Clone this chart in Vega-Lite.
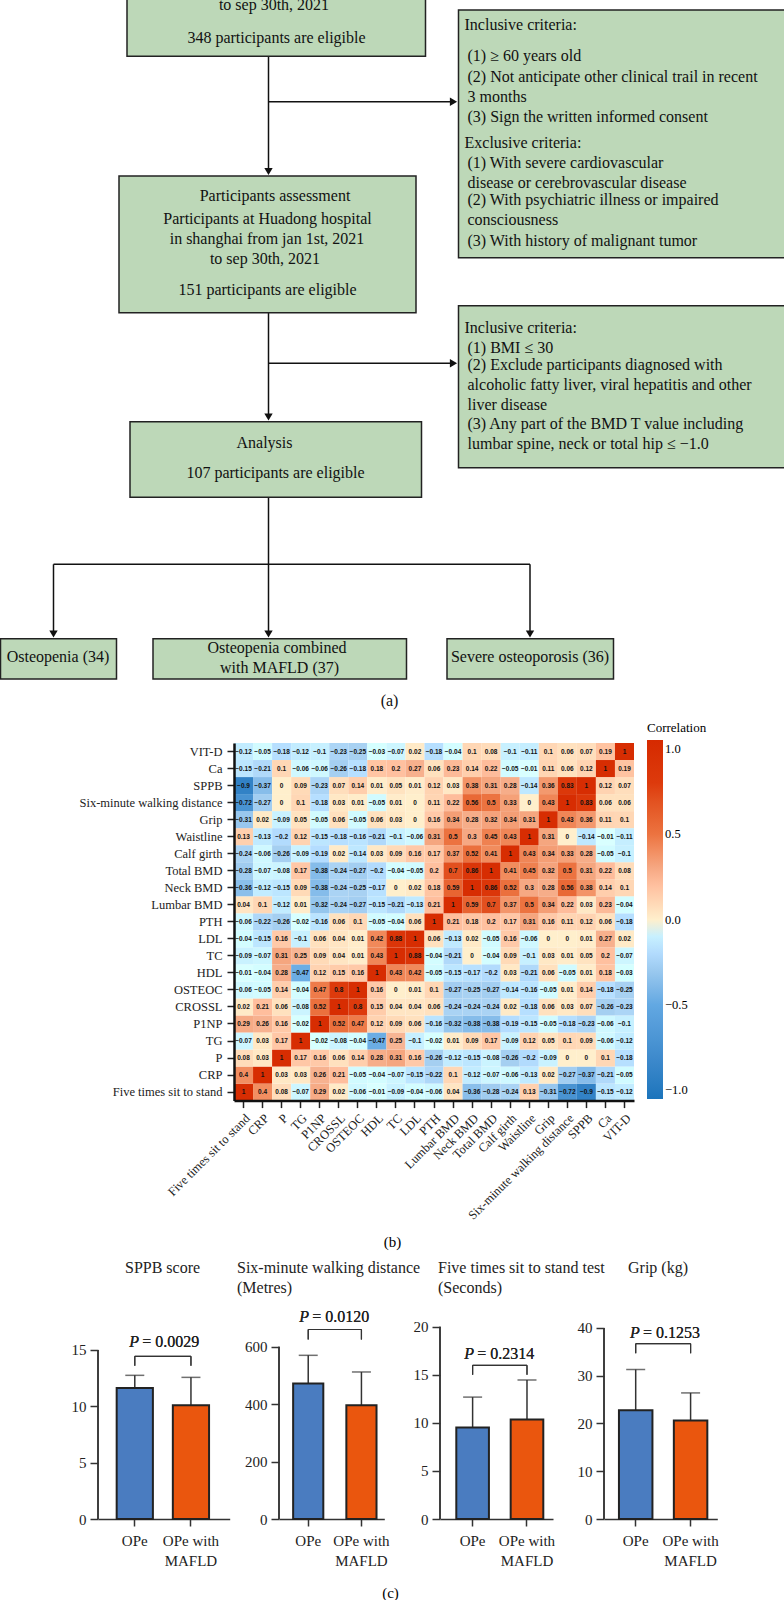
{"$schema":"https://vega.github.io/schema/vega-lite/v6.json","padding":0,"background":"white","bounds":"flush","spacing":0,
"config":{"view":{"stroke":null},"concat":{"spacing":0},"font":"Liberation Serif","axis":{"labelFont":"Liberation Serif","titleFont":"Liberation Serif","grid":false}},
"datasets":{
"boxes":[{"name":"recruit","left":127,"right":425.5,"top":-5,"bottom":56.3},{"name":"criteria1","left":458.5,"right":790,"top":10,"bottom":257.7},{"name":"assess","left":119,"right":416,"top":176,"bottom":312.7},{"name":"criteria2","left":458.5,"right":790,"top":305.7,"bottom":467.7},{"name":"analysis","left":130,"right":421.5,"top":421.7,"bottom":497.3},{"name":"g1","left":0.5,"right":116.5,"top":638.7,"bottom":679},{"name":"g2","left":153,"right":406.5,"top":638.7,"bottom":679},{"name":"g3","left":447,"right":613.5,"top":638.7,"bottom":679}],
"links":[{"x":268.5,"x2":268.5,"y":56.3,"y2":172},{"x":268.5,"x2":455,"y":101.7,"y2":101.7},{"x":268.5,"x2":268.5,"y":312.7,"y2":418},{"x":268.5,"x2":455,"y":363.3,"y2":363.3},{"x":268.5,"x2":268.5,"y":497.3,"y2":635},{"x":53.5,"x2":530,"y":564.3,"y2":564.3},{"x":53.5,"x2":53.5,"y":564.3,"y2":635},{"x":530,"x2":530,"y":564.3,"y2":635}],
"heads":[{"x":268.5,"y":171.5,"dir":"triangle-down"},{"x":268.5,"y":417,"dir":"triangle-down"},{"x":268.5,"y":634,"dir":"triangle-down"},{"x":53.5,"y":634,"dir":"triangle-down"},{"x":530,"y":634,"dir":"triangle-down"},{"x":453.5,"y":101.7,"dir":"triangle-right"},{"x":453.5,"y":363.3,"dir":"triangle-right"}],
"centerText":[{"x":274,"y":4.7,"t":"to sep 30th, 2021"},{"x":276.5,"y":38,"t":"348 participants are eligible"},{"x":275,"y":196,"t":"Participants assessment"},{"x":267.5,"y":219,"t":"Participants at Huadong hospital"},{"x":267,"y":239.3,"t":"in shanghai from jan 1st, 2021"},{"x":265,"y":259.3,"t":"to sep 30th, 2021"},{"x":267.5,"y":290,"t":"151 participants are eligible"},{"x":264.5,"y":443,"t":"Analysis"},{"x":275.5,"y":473,"t":"107 participants are eligible"},{"x":58,"y":657.3,"t":"Osteopenia (34)"},{"x":277,"y":648,"t":"Osteopenia combined"},{"x":279.5,"y":668,"t":"with MAFLD (37)"},{"x":530,"y":657.3,"t":"Severe osteoporosis (36)"},{"x":389.5,"y":701,"t":"(a)"}],
"leftText":[{"x":464.5,"y":25,"t":"Inclusive criteria:"},{"x":467.5,"y":56,"t":"(1) ≥ 60 years old"},{"x":467.5,"y":77.3,"t":"(2) Not anticipate other clinical trail in recent"},{"x":467.5,"y":97,"t":"3 months"},{"x":467.5,"y":117,"t":"(3) Sign the written informed consent"},{"x":464.5,"y":142.7,"t":"Exclusive criteria:"},{"x":467.5,"y":163,"t":"(1) With severe cardiovascular"},{"x":467.5,"y":183,"t":"disease or cerebrovascular disease"},{"x":467.5,"y":200,"t":"(2) With psychiatric illness or impaired"},{"x":467.5,"y":220,"t":"consciousness"},{"x":467.5,"y":241,"t":"(3) With history of malignant tumor"},{"x":464.5,"y":328.3,"t":"Inclusive criteria:"},{"x":467.5,"y":348,"t":"(1) BMI ≤ 30"},{"x":467.5,"y":365.3,"t":"(2) Exclude participants diagnosed with"},{"x":467.5,"y":385,"t":"alcoholic fatty liver, viral hepatitis and other"},{"x":467.5,"y":405,"t":"liver disease"},{"x":467.5,"y":424.3,"t":"(3) Any part of the BMD T value including"},{"x":467.5,"y":444.3,"t":"lumbar spine, neck or total hip ≤ −1.0"}],
"corr":[
{"x":"Five","y":"Five","r":1},{"x":"CRP","y":"Five","r":0.4},{"x":"P","y":"Five","r":0.08},{"x":"TG","y":"Five","r":-0.07},{"x":"P1NP","y":"Five","r":0.29},{"x":"CROSSL","y":"Five","r":0.02},{"x":"OSTEOC","y":"Five","r":-0.06},{"x":"HDL","y":"Five","r":-0.01},{"x":"TC","y":"Five","r":-0.09},{"x":"LDL","y":"Five","r":-0.04},{"x":"PTH","y":"Five","r":-0.06},{"x":"Lumbar BMD","y":"Five","r":0.04},{"x":"Neck BMD","y":"Five","r":-0.36},{"x":"Total BMD","y":"Five","r":-0.28},{"x":"Calf girth","y":"Five","r":-0.24},{"x":"Waistline","y":"Five","r":0.13},{"x":"Grip","y":"Five","r":-0.31},{"x":"Six","y":"Five","r":-0.72},{"x":"SPPB","y":"Five","r":-0.9},{"x":"Ca","y":"Five","r":-0.15},{"x":"VIT-D","y":"Five","r":-0.12},
{"x":"Five","y":"CRP","r":0.4},{"x":"CRP","y":"CRP","r":1},{"x":"P","y":"CRP","r":0.03},{"x":"TG","y":"CRP","r":0.03},{"x":"P1NP","y":"CRP","r":0.26},{"x":"CROSSL","y":"CRP","r":0.21},{"x":"OSTEOC","y":"CRP","r":-0.05},{"x":"HDL","y":"CRP","r":-0.04},{"x":"TC","y":"CRP","r":-0.07},{"x":"LDL","y":"CRP","r":-0.15},{"x":"PTH","y":"CRP","r":-0.22},{"x":"Lumbar BMD","y":"CRP","r":0.1},{"x":"Neck BMD","y":"CRP","r":-0.12},{"x":"Total BMD","y":"CRP","r":-0.07},{"x":"Calf girth","y":"CRP","r":-0.06},{"x":"Waistline","y":"CRP","r":-0.13},{"x":"Grip","y":"CRP","r":0.02},{"x":"Six","y":"CRP","r":-0.27},{"x":"SPPB","y":"CRP","r":-0.37},{"x":"Ca","y":"CRP","r":-0.21},{"x":"VIT-D","y":"CRP","r":-0.05},
{"x":"Five","y":"P","r":0.08},{"x":"CRP","y":"P","r":0.03},{"x":"P","y":"P","r":1},{"x":"TG","y":"P","r":0.17},{"x":"P1NP","y":"P","r":0.16},{"x":"CROSSL","y":"P","r":0.06},{"x":"OSTEOC","y":"P","r":0.14},{"x":"HDL","y":"P","r":0.28},{"x":"TC","y":"P","r":0.31},{"x":"LDL","y":"P","r":0.16},{"x":"PTH","y":"P","r":-0.26},{"x":"Lumbar BMD","y":"P","r":-0.12},{"x":"Neck BMD","y":"P","r":-0.15},{"x":"Total BMD","y":"P","r":-0.08},{"x":"Calf girth","y":"P","r":-0.26},{"x":"Waistline","y":"P","r":-0.2},{"x":"Grip","y":"P","r":-0.09},{"x":"Six","y":"P","r":0},{"x":"SPPB","y":"P","r":0},{"x":"Ca","y":"P","r":0.1},{"x":"VIT-D","y":"P","r":-0.18},
{"x":"Five","y":"TG","r":-0.07},{"x":"CRP","y":"TG","r":0.03},{"x":"P","y":"TG","r":0.17},{"x":"TG","y":"TG","r":1},{"x":"P1NP","y":"TG","r":-0.02},{"x":"CROSSL","y":"TG","r":-0.08},{"x":"OSTEOC","y":"TG","r":-0.04},{"x":"HDL","y":"TG","r":-0.47},{"x":"TC","y":"TG","r":0.25},{"x":"LDL","y":"TG","r":-0.1},{"x":"PTH","y":"TG","r":-0.02},{"x":"Lumbar BMD","y":"TG","r":0.01},{"x":"Neck BMD","y":"TG","r":0.09},{"x":"Total BMD","y":"TG","r":0.17},{"x":"Calf girth","y":"TG","r":-0.09},{"x":"Waistline","y":"TG","r":0.12},{"x":"Grip","y":"TG","r":0.05},{"x":"Six","y":"TG","r":0.1},{"x":"SPPB","y":"TG","r":0.09},{"x":"Ca","y":"TG","r":-0.06},{"x":"VIT-D","y":"TG","r":-0.12},
{"x":"Five","y":"P1NP","r":0.29},{"x":"CRP","y":"P1NP","r":0.26},{"x":"P","y":"P1NP","r":0.16},{"x":"TG","y":"P1NP","r":-0.02},{"x":"P1NP","y":"P1NP","r":1},{"x":"CROSSL","y":"P1NP","r":0.52},{"x":"OSTEOC","y":"P1NP","r":0.47},{"x":"HDL","y":"P1NP","r":0.12},{"x":"TC","y":"P1NP","r":0.09},{"x":"LDL","y":"P1NP","r":0.06},{"x":"PTH","y":"P1NP","r":-0.16},{"x":"Lumbar BMD","y":"P1NP","r":-0.32},{"x":"Neck BMD","y":"P1NP","r":-0.38},{"x":"Total BMD","y":"P1NP","r":-0.38},{"x":"Calf girth","y":"P1NP","r":-0.19},{"x":"Waistline","y":"P1NP","r":-0.15},{"x":"Grip","y":"P1NP","r":-0.05},{"x":"Six","y":"P1NP","r":-0.18},{"x":"SPPB","y":"P1NP","r":-0.23},{"x":"Ca","y":"P1NP","r":-0.06},{"x":"VIT-D","y":"P1NP","r":-0.1},
{"x":"Five","y":"CROSSL","r":0.02},{"x":"CRP","y":"CROSSL","r":0.21},{"x":"P","y":"CROSSL","r":0.06},{"x":"TG","y":"CROSSL","r":-0.08},{"x":"P1NP","y":"CROSSL","r":0.52},{"x":"CROSSL","y":"CROSSL","r":1},{"x":"OSTEOC","y":"CROSSL","r":0.8},{"x":"HDL","y":"CROSSL","r":0.15},{"x":"TC","y":"CROSSL","r":0.04},{"x":"LDL","y":"CROSSL","r":0.04},{"x":"PTH","y":"CROSSL","r":0.06},{"x":"Lumbar BMD","y":"CROSSL","r":-0.24},{"x":"Neck BMD","y":"CROSSL","r":-0.24},{"x":"Total BMD","y":"CROSSL","r":-0.24},{"x":"Calf girth","y":"CROSSL","r":0.02},{"x":"Waistline","y":"CROSSL","r":-0.18},{"x":"Grip","y":"CROSSL","r":0.06},{"x":"Six","y":"CROSSL","r":0.03},{"x":"SPPB","y":"CROSSL","r":0.07},{"x":"Ca","y":"CROSSL","r":-0.26},{"x":"VIT-D","y":"CROSSL","r":-0.23},
{"x":"Five","y":"OSTEOC","r":-0.06},{"x":"CRP","y":"OSTEOC","r":-0.05},{"x":"P","y":"OSTEOC","r":0.14},{"x":"TG","y":"OSTEOC","r":-0.04},{"x":"P1NP","y":"OSTEOC","r":0.47},{"x":"CROSSL","y":"OSTEOC","r":0.8},{"x":"OSTEOC","y":"OSTEOC","r":1},{"x":"HDL","y":"OSTEOC","r":0.16},{"x":"TC","y":"OSTEOC","r":0},{"x":"LDL","y":"OSTEOC","r":0.01},{"x":"PTH","y":"OSTEOC","r":0.1},{"x":"Lumbar BMD","y":"OSTEOC","r":-0.27},{"x":"Neck BMD","y":"OSTEOC","r":-0.25},{"x":"Total BMD","y":"OSTEOC","r":-0.27},{"x":"Calf girth","y":"OSTEOC","r":-0.14},{"x":"Waistline","y":"OSTEOC","r":-0.16},{"x":"Grip","y":"OSTEOC","r":-0.05},{"x":"Six","y":"OSTEOC","r":0.01},{"x":"SPPB","y":"OSTEOC","r":0.14},{"x":"Ca","y":"OSTEOC","r":-0.18},{"x":"VIT-D","y":"OSTEOC","r":-0.25},
{"x":"Five","y":"HDL","r":-0.01},{"x":"CRP","y":"HDL","r":-0.04},{"x":"P","y":"HDL","r":0.28},{"x":"TG","y":"HDL","r":-0.47},{"x":"P1NP","y":"HDL","r":0.12},{"x":"CROSSL","y":"HDL","r":0.15},{"x":"OSTEOC","y":"HDL","r":0.16},{"x":"HDL","y":"HDL","r":1},{"x":"TC","y":"HDL","r":0.43},{"x":"LDL","y":"HDL","r":0.42},{"x":"PTH","y":"HDL","r":-0.05},{"x":"Lumbar BMD","y":"HDL","r":-0.15},{"x":"Neck BMD","y":"HDL","r":-0.17},{"x":"Total BMD","y":"HDL","r":-0.2},{"x":"Calf girth","y":"HDL","r":0.03},{"x":"Waistline","y":"HDL","r":-0.21},{"x":"Grip","y":"HDL","r":0.06},{"x":"Six","y":"HDL","r":-0.05},{"x":"SPPB","y":"HDL","r":0.01},{"x":"Ca","y":"HDL","r":0.18},{"x":"VIT-D","y":"HDL","r":-0.03},
{"x":"Five","y":"TC","r":-0.09},{"x":"CRP","y":"TC","r":-0.07},{"x":"P","y":"TC","r":0.31},{"x":"TG","y":"TC","r":0.25},{"x":"P1NP","y":"TC","r":0.09},{"x":"CROSSL","y":"TC","r":0.04},{"x":"OSTEOC","y":"TC","r":0.01},{"x":"HDL","y":"TC","r":0.43},{"x":"TC","y":"TC","r":1},{"x":"LDL","y":"TC","r":0.88},{"x":"PTH","y":"TC","r":-0.04},{"x":"Lumbar BMD","y":"TC","r":-0.21},{"x":"Neck BMD","y":"TC","r":0},{"x":"Total BMD","y":"TC","r":-0.04},{"x":"Calf girth","y":"TC","r":0.09},{"x":"Waistline","y":"TC","r":-0.1},{"x":"Grip","y":"TC","r":0.03},{"x":"Six","y":"TC","r":0.01},{"x":"SPPB","y":"TC","r":0.05},{"x":"Ca","y":"TC","r":0.2},{"x":"VIT-D","y":"TC","r":-0.07},
{"x":"Five","y":"LDL","r":-0.04},{"x":"CRP","y":"LDL","r":-0.15},{"x":"P","y":"LDL","r":0.16},{"x":"TG","y":"LDL","r":-0.1},{"x":"P1NP","y":"LDL","r":0.06},{"x":"CROSSL","y":"LDL","r":0.04},{"x":"OSTEOC","y":"LDL","r":0.01},{"x":"HDL","y":"LDL","r":0.42},{"x":"TC","y":"LDL","r":0.88},{"x":"LDL","y":"LDL","r":1},{"x":"PTH","y":"LDL","r":0.06},{"x":"Lumbar BMD","y":"LDL","r":-0.13},{"x":"Neck BMD","y":"LDL","r":0.02},{"x":"Total BMD","y":"LDL","r":-0.05},{"x":"Calf girth","y":"LDL","r":0.16},{"x":"Waistline","y":"LDL","r":-0.06},{"x":"Grip","y":"LDL","r":0},{"x":"Six","y":"LDL","r":0},{"x":"SPPB","y":"LDL","r":0.01},{"x":"Ca","y":"LDL","r":0.27},{"x":"VIT-D","y":"LDL","r":0.02},
{"x":"Five","y":"PTH","r":-0.06},{"x":"CRP","y":"PTH","r":-0.22},{"x":"P","y":"PTH","r":-0.26},{"x":"TG","y":"PTH","r":-0.02},{"x":"P1NP","y":"PTH","r":-0.16},{"x":"CROSSL","y":"PTH","r":0.06},{"x":"OSTEOC","y":"PTH","r":0.1},{"x":"HDL","y":"PTH","r":-0.05},{"x":"TC","y":"PTH","r":-0.04},{"x":"LDL","y":"PTH","r":0.06},{"x":"PTH","y":"PTH","r":1},{"x":"Lumbar BMD","y":"PTH","r":0.21},{"x":"Neck BMD","y":"PTH","r":0.18},{"x":"Total BMD","y":"PTH","r":0.2},{"x":"Calf girth","y":"PTH","r":0.17},{"x":"Waistline","y":"PTH","r":0.31},{"x":"Grip","y":"PTH","r":0.16},{"x":"Six","y":"PTH","r":0.11},{"x":"SPPB","y":"PTH","r":0.12},{"x":"Ca","y":"PTH","r":0.06},{"x":"VIT-D","y":"PTH","r":-0.18},
{"x":"Five","y":"Lumbar BMD","r":0.04},{"x":"CRP","y":"Lumbar BMD","r":0.1},{"x":"P","y":"Lumbar BMD","r":-0.12},{"x":"TG","y":"Lumbar BMD","r":0.01},{"x":"P1NP","y":"Lumbar BMD","r":-0.32},{"x":"CROSSL","y":"Lumbar BMD","r":-0.24},{"x":"OSTEOC","y":"Lumbar BMD","r":-0.27},{"x":"HDL","y":"Lumbar BMD","r":-0.15},{"x":"TC","y":"Lumbar BMD","r":-0.21},{"x":"LDL","y":"Lumbar BMD","r":-0.13},{"x":"PTH","y":"Lumbar BMD","r":0.21},{"x":"Lumbar BMD","y":"Lumbar BMD","r":1},{"x":"Neck BMD","y":"Lumbar BMD","r":0.59},{"x":"Total BMD","y":"Lumbar BMD","r":0.7},{"x":"Calf girth","y":"Lumbar BMD","r":0.37},{"x":"Waistline","y":"Lumbar BMD","r":0.5},{"x":"Grip","y":"Lumbar BMD","r":0.34},{"x":"Six","y":"Lumbar BMD","r":0.22},{"x":"SPPB","y":"Lumbar BMD","r":0.03},{"x":"Ca","y":"Lumbar BMD","r":0.23},{"x":"VIT-D","y":"Lumbar BMD","r":-0.04},
{"x":"Five","y":"Neck BMD","r":-0.36},{"x":"CRP","y":"Neck BMD","r":-0.12},{"x":"P","y":"Neck BMD","r":-0.15},{"x":"TG","y":"Neck BMD","r":0.09},{"x":"P1NP","y":"Neck BMD","r":-0.38},{"x":"CROSSL","y":"Neck BMD","r":-0.24},{"x":"OSTEOC","y":"Neck BMD","r":-0.25},{"x":"HDL","y":"Neck BMD","r":-0.17},{"x":"TC","y":"Neck BMD","r":0},{"x":"LDL","y":"Neck BMD","r":0.02},{"x":"PTH","y":"Neck BMD","r":0.18},{"x":"Lumbar BMD","y":"Neck BMD","r":0.59},{"x":"Neck BMD","y":"Neck BMD","r":1},{"x":"Total BMD","y":"Neck BMD","r":0.86},{"x":"Calf girth","y":"Neck BMD","r":0.52},{"x":"Waistline","y":"Neck BMD","r":0.3},{"x":"Grip","y":"Neck BMD","r":0.28},{"x":"Six","y":"Neck BMD","r":0.56},{"x":"SPPB","y":"Neck BMD","r":0.38},{"x":"Ca","y":"Neck BMD","r":0.14},{"x":"VIT-D","y":"Neck BMD","r":0.1},
{"x":"Five","y":"Total BMD","r":-0.28},{"x":"CRP","y":"Total BMD","r":-0.07},{"x":"P","y":"Total BMD","r":-0.08},{"x":"TG","y":"Total BMD","r":0.17},{"x":"P1NP","y":"Total BMD","r":-0.38},{"x":"CROSSL","y":"Total BMD","r":-0.24},{"x":"OSTEOC","y":"Total BMD","r":-0.27},{"x":"HDL","y":"Total BMD","r":-0.2},{"x":"TC","y":"Total BMD","r":-0.04},{"x":"LDL","y":"Total BMD","r":-0.05},{"x":"PTH","y":"Total BMD","r":0.2},{"x":"Lumbar BMD","y":"Total BMD","r":0.7},{"x":"Neck BMD","y":"Total BMD","r":0.86},{"x":"Total BMD","y":"Total BMD","r":1},{"x":"Calf girth","y":"Total BMD","r":0.41},{"x":"Waistline","y":"Total BMD","r":0.45},{"x":"Grip","y":"Total BMD","r":0.32},{"x":"Six","y":"Total BMD","r":0.5},{"x":"SPPB","y":"Total BMD","r":0.31},{"x":"Ca","y":"Total BMD","r":0.22},{"x":"VIT-D","y":"Total BMD","r":0.08},
{"x":"Five","y":"Calf girth","r":-0.24},{"x":"CRP","y":"Calf girth","r":-0.06},{"x":"P","y":"Calf girth","r":-0.26},{"x":"TG","y":"Calf girth","r":-0.09},{"x":"P1NP","y":"Calf girth","r":-0.19},{"x":"CROSSL","y":"Calf girth","r":0.02},{"x":"OSTEOC","y":"Calf girth","r":-0.14},{"x":"HDL","y":"Calf girth","r":0.03},{"x":"TC","y":"Calf girth","r":0.09},{"x":"LDL","y":"Calf girth","r":0.16},{"x":"PTH","y":"Calf girth","r":0.17},{"x":"Lumbar BMD","y":"Calf girth","r":0.37},{"x":"Neck BMD","y":"Calf girth","r":0.52},{"x":"Total BMD","y":"Calf girth","r":0.41},{"x":"Calf girth","y":"Calf girth","r":1},{"x":"Waistline","y":"Calf girth","r":0.43},{"x":"Grip","y":"Calf girth","r":0.34},{"x":"Six","y":"Calf girth","r":0.33},{"x":"SPPB","y":"Calf girth","r":0.28},{"x":"Ca","y":"Calf girth","r":-0.05},{"x":"VIT-D","y":"Calf girth","r":-0.1},
{"x":"Five","y":"Waistline","r":0.13},{"x":"CRP","y":"Waistline","r":-0.13},{"x":"P","y":"Waistline","r":-0.2},{"x":"TG","y":"Waistline","r":0.12},{"x":"P1NP","y":"Waistline","r":-0.15},{"x":"CROSSL","y":"Waistline","r":-0.18},{"x":"OSTEOC","y":"Waistline","r":-0.16},{"x":"HDL","y":"Waistline","r":-0.21},{"x":"TC","y":"Waistline","r":-0.1},{"x":"LDL","y":"Waistline","r":-0.06},{"x":"PTH","y":"Waistline","r":0.31},{"x":"Lumbar BMD","y":"Waistline","r":0.5},{"x":"Neck BMD","y":"Waistline","r":0.3},{"x":"Total BMD","y":"Waistline","r":0.45},{"x":"Calf girth","y":"Waistline","r":0.43},{"x":"Waistline","y":"Waistline","r":1},{"x":"Grip","y":"Waistline","r":0.31},{"x":"Six","y":"Waistline","r":0},{"x":"SPPB","y":"Waistline","r":-0.14},{"x":"Ca","y":"Waistline","r":-0.01},{"x":"VIT-D","y":"Waistline","r":-0.11},
{"x":"Five","y":"Grip","r":-0.31},{"x":"CRP","y":"Grip","r":0.02},{"x":"P","y":"Grip","r":-0.09},{"x":"TG","y":"Grip","r":0.05},{"x":"P1NP","y":"Grip","r":-0.05},{"x":"CROSSL","y":"Grip","r":0.06},{"x":"OSTEOC","y":"Grip","r":-0.05},{"x":"HDL","y":"Grip","r":0.06},{"x":"TC","y":"Grip","r":0.03},{"x":"LDL","y":"Grip","r":0},{"x":"PTH","y":"Grip","r":0.16},{"x":"Lumbar BMD","y":"Grip","r":0.34},{"x":"Neck BMD","y":"Grip","r":0.28},{"x":"Total BMD","y":"Grip","r":0.32},{"x":"Calf girth","y":"Grip","r":0.34},{"x":"Waistline","y":"Grip","r":0.31},{"x":"Grip","y":"Grip","r":1},{"x":"Six","y":"Grip","r":0.43},{"x":"SPPB","y":"Grip","r":0.36},{"x":"Ca","y":"Grip","r":0.11},{"x":"VIT-D","y":"Grip","r":0.1},
{"x":"Five","y":"Six","r":-0.72},{"x":"CRP","y":"Six","r":-0.27},{"x":"P","y":"Six","r":0},{"x":"TG","y":"Six","r":0.1},{"x":"P1NP","y":"Six","r":-0.18},{"x":"CROSSL","y":"Six","r":0.03},{"x":"OSTEOC","y":"Six","r":0.01},{"x":"HDL","y":"Six","r":-0.05},{"x":"TC","y":"Six","r":0.01},{"x":"LDL","y":"Six","r":0},{"x":"PTH","y":"Six","r":0.11},{"x":"Lumbar BMD","y":"Six","r":0.22},{"x":"Neck BMD","y":"Six","r":0.56},{"x":"Total BMD","y":"Six","r":0.5},{"x":"Calf girth","y":"Six","r":0.33},{"x":"Waistline","y":"Six","r":0},{"x":"Grip","y":"Six","r":0.43},{"x":"Six","y":"Six","r":1},{"x":"SPPB","y":"Six","r":0.83},{"x":"Ca","y":"Six","r":0.06},{"x":"VIT-D","y":"Six","r":0.06},
{"x":"Five","y":"SPPB","r":-0.9},{"x":"CRP","y":"SPPB","r":-0.37},{"x":"P","y":"SPPB","r":0},{"x":"TG","y":"SPPB","r":0.09},{"x":"P1NP","y":"SPPB","r":-0.23},{"x":"CROSSL","y":"SPPB","r":0.07},{"x":"OSTEOC","y":"SPPB","r":0.14},{"x":"HDL","y":"SPPB","r":0.01},{"x":"TC","y":"SPPB","r":0.05},{"x":"LDL","y":"SPPB","r":0.01},{"x":"PTH","y":"SPPB","r":0.12},{"x":"Lumbar BMD","y":"SPPB","r":0.03},{"x":"Neck BMD","y":"SPPB","r":0.38},{"x":"Total BMD","y":"SPPB","r":0.31},{"x":"Calf girth","y":"SPPB","r":0.28},{"x":"Waistline","y":"SPPB","r":-0.14},{"x":"Grip","y":"SPPB","r":0.36},{"x":"Six","y":"SPPB","r":0.83},{"x":"SPPB","y":"SPPB","r":1},{"x":"Ca","y":"SPPB","r":0.12},{"x":"VIT-D","y":"SPPB","r":0.07},
{"x":"Five","y":"Ca","r":-0.15},{"x":"CRP","y":"Ca","r":-0.21},{"x":"P","y":"Ca","r":0.1},{"x":"TG","y":"Ca","r":-0.06},{"x":"P1NP","y":"Ca","r":-0.06},{"x":"CROSSL","y":"Ca","r":-0.26},{"x":"OSTEOC","y":"Ca","r":-0.18},{"x":"HDL","y":"Ca","r":0.18},{"x":"TC","y":"Ca","r":0.2},{"x":"LDL","y":"Ca","r":0.27},{"x":"PTH","y":"Ca","r":0.06},{"x":"Lumbar BMD","y":"Ca","r":0.23},{"x":"Neck BMD","y":"Ca","r":0.14},{"x":"Total BMD","y":"Ca","r":0.22},{"x":"Calf girth","y":"Ca","r":-0.05},{"x":"Waistline","y":"Ca","r":-0.01},{"x":"Grip","y":"Ca","r":0.11},{"x":"Six","y":"Ca","r":0.06},{"x":"SPPB","y":"Ca","r":0.12},{"x":"Ca","y":"Ca","r":1},{"x":"VIT-D","y":"Ca","r":0.19},
{"x":"Five","y":"VIT-D","r":-0.12},{"x":"CRP","y":"VIT-D","r":-0.05},{"x":"P","y":"VIT-D","r":-0.18},{"x":"TG","y":"VIT-D","r":-0.12},{"x":"P1NP","y":"VIT-D","r":-0.1},{"x":"CROSSL","y":"VIT-D","r":-0.23},{"x":"OSTEOC","y":"VIT-D","r":-0.25},{"x":"HDL","y":"VIT-D","r":-0.03},{"x":"TC","y":"VIT-D","r":-0.07},{"x":"LDL","y":"VIT-D","r":0.02},{"x":"PTH","y":"VIT-D","r":-0.18},{"x":"Lumbar BMD","y":"VIT-D","r":-0.04},{"x":"Neck BMD","y":"VIT-D","r":0.1},{"x":"Total BMD","y":"VIT-D","r":0.08},{"x":"Calf girth","y":"VIT-D","r":-0.1},{"x":"Waistline","y":"VIT-D","r":-0.11},{"x":"Grip","y":"VIT-D","r":0.1},{"x":"Six","y":"VIT-D","r":0.06},{"x":"SPPB","y":"VIT-D","r":0.07},{"x":"Ca","y":"VIT-D","r":0.19},{"x":"VIT-D","y":"VIT-D","r":1}],
"sppb":[{"group":"OPe","mean":11.63,"hi":12.75},{"group":"OPe with MAFLD","mean":10.09,"hi":12.57}],
"walk":[{"group":"OPe","mean":472,"hi":570},{"group":"OPe with MAFLD","mean":396,"hi":512}],
"sit":[{"group":"OPe","mean":9.51,"hi":12.68},{"group":"OPe with MAFLD","mean":10.35,"hi":14.46}],
"grip":[{"group":"OPe","mean":22.75,"hi":31.3},{"group":"OPe with MAFLD","mean":20.6,"hi":26.4}]
},
"vconcat":[
{"width":784,"height":742.5,
"layer":[
{"data":{"name":"links"},"mark":{"type":"rule","color":"#111","strokeWidth":1.5},"encoding":{"x":{"field":"x","type":"quantitative","scale":{"domain":[0,784],"nice":false,"zero":false},"axis":null},"x2":{"field":"x2"},"y":{"field":"y","type":"quantitative","scale":{"domain":[0,742.5],"nice":false,"zero":false,"reverse":true},"axis":null},"y2":{"field":"y2"}}},
{"data":{"name":"boxes"},"mark":{"type":"rect","fill":"#bdd8b8","stroke":"#222","strokeWidth":1.5,"clip":true},"encoding":{"x":{"field":"left","type":"quantitative"},"x2":{"field":"right"},"y":{"field":"top","type":"quantitative"},"y2":{"field":"bottom"}}},
{"data":{"name":"heads"},"mark":{"type":"point","filled":true,"opacity":1,"color":"#111","size":70},"encoding":{"x":{"field":"x","type":"quantitative"},"y":{"field":"y","type":"quantitative"},"shape":{"field":"dir","type":"nominal","scale":null}}},
{"data":{"name":"centerText"},"mark":{"type":"text","align":"center","baseline":"middle","fontSize":16,"color":"#111","font":"Liberation Serif","clip":true},"encoding":{"x":{"field":"x","type":"quantitative"},"y":{"field":"y","type":"quantitative"},"text":{"field":"t"}}},
{"data":{"name":"leftText"},"mark":{"type":"text","align":"left","baseline":"middle","fontSize":16,"color":"#111","font":"Liberation Serif"},"encoding":{"x":{"field":"x","type":"quantitative"},"y":{"field":"y","type":"quantitative"},"text":{"field":"t"}}}
]},
{"bounds":"flush","spacing":0,"hconcat":[
{"width":234,"height":1,"data":{"values":[{}]},"mark":{"type":"point","opacity":0},"encoding":{}},
{"width":400,"height":357.6,"data":{"name":"corr"},
"encoding":{"x":{"field":"x","type":"nominal","scale":{"domain":["Five","CRP","P","TG","P1NP","CROSSL","OSTEOC","HDL","TC","LDL","PTH","Lumbar BMD","Neck BMD","Total BMD","Calf girth","Waistline","Grip","Six","SPPB","Ca","VIT-D"],"paddingInner":0,"paddingOuter":0},"axis":{"title":"(b)","titleFontSize":15,"titleFontWeight":"normal","titleX":158,"titleY":134,"titleAnchor":"middle","titleAngle":0,"labelAngle":-45,"labelFontSize":12.5,"labelColor":"#222","labelPadding":4,"tickSize":7,"tickColor":"#222","tickWidth":1.5,"domainColor":"#111","domainWidth":2.5,"labelExpr":"datum.value=='Five'?'Five times sit to stand':datum.value=='Six'?'Six-minute walking distance':datum.value"}},
"y":{"field":"y","type":"nominal","scale":{"domain":["VIT-D","Ca","SPPB","Six","Grip","Waistline","Calf girth","Total BMD","Neck BMD","Lumbar BMD","PTH","LDL","TC","HDL","OSTEOC","CROSSL","P1NP","TG","P","CRP","Five"],"paddingInner":0,"paddingOuter":0},"axis":{"title":null,"labelFontSize":12.5,"labelColor":"#222","labelPadding":5,"tickSize":7,"tickColor":"#222","tickWidth":1.5,"domainColor":"#111","domainWidth":2.5,"labelExpr":"datum.value=='Five'?'Five times sit to stand':datum.value=='Six'?'Six-minute walking distance':datum.value"}}},
"layer":[
{"mark":{"type":"rect"},"encoding":{"color":{"field":"r","type":"quantitative","scale":{"domain":[-1.05,-0.5,-0.25,0,0.25,0.5,0.8,1.05],"range":["#1b74bb","#62a8e2","#a8d1f2","#ffffff","#f7b594","#ec7340","#dd3a0c","#d62a00"]},"legend":{"orient":"none","legendX":647,"legendY":722,"title":"Correlation","titleFont":"Liberation Serif","titleFontSize":13,"titleFontWeight":"normal","titlePadding":5,"gradientLength":359,"gradientThickness":16,"values":[-1,-0.5,0,0.5,1],"format":".1f","labelFont":"Liberation Serif","labelFontSize":12.5,"gradientStrokeWidth":0}}}},
{"mark":{"type":"text","fontSize":6.5,"font":"Arial, Liberation Sans","fontWeight":"bold","color":"#111"},"encoding":{"text":{"field":"r","type":"quantitative","format":".2~f"}}}
]}
]},
{"width":10,"height":519.6,"data":{"values":[{}]},"mark":{"type":"point","opacity":0},"encoding":{}},
{"bounds":"flush","spacing":0,"hconcat":[
{"width":97.3,"height":1,"data":{"values":[{}]},"mark":{"type":"point","opacity":0},"encoding":{}},
{"width":131.7,"height":256,"data":{"name":"sppb"},
"title":{"text":"SPPB score","anchor":"start","frame":"group","dy":17,"dx":27,"fontSize":16,"fontWeight":"normal","font":"Liberation Serif","color":"#222","lineHeight":20},
"encoding":{"x":{"field":"group","type":"nominal","scale":{"paddingInner":0.355,"paddingOuter":0.35,"align":0.475},"axis":{"title":"(c)","titleFontSize":15,"titleFontWeight":"normal","titleX":292,"titleY":66,"titleAngle":0,"labelAngle":0,"labelFontSize":15,"labelColor":"#222","labelPadding":7,"labelLineHeight":20,"tickSize":7,"tickColor":"#333","tickWidth":1.5,"domainColor":"#333","domainWidth":1.5,"labelExpr":"datum.value=='OPe'?'OPe':['OPe with','MAFLD']"}},"y":{"type":"quantitative","scale":{"domain":[0,22.72],"nice":false}}},
"layer":[
{"mark":{"type":"rule","color":"#333","strokeWidth":1.5},"encoding":{"x":{"value":0},"y":{"datum":0,"axis":{"title":null,"domain":false,"values":[0,5,10,15],"labelFontSize":15,"labelColor":"#222","labelPadding":4,"tickSize":8,"tickColor":"#333","tickWidth":1.5}},"y2":{"datum":15}}},
{"mark":{"type":"rule","color":"#333","strokeWidth":1.5},"encoding":{"y":{"field":"mean","type":"quantitative"},"y2":{"field":"hi"}}},
{"mark":{"type":"tick","orient":"horizontal","color":"#333","size":19,"thickness":1.5},"encoding":{"y":{"field":"hi","type":"quantitative"}}},
{"mark":{"type":"bar","stroke":"#222","strokeWidth":2},"encoding":{"y":{"field":"mean","type":"quantitative"},"fill":{"field":"group","type":"nominal","scale":{"domain":["OPe","OPe with MAFLD"],"range":["#4a7cc0","#ea560e"]},"legend":null}}},
{"mark":{"type":"rule","color":"#333","strokeWidth":1.2},"encoding":{"x":{"datum":"OPe"},"x2":{"datum":"OPe with MAFLD"},"y":{"datum":14.44}}},
{"mark":{"type":"rule","color":"#333","strokeWidth":1.2},"encoding":{"x":{"datum":"OPe"},"y":{"datum":14.44},"y2":{"datum":13.6}}},
{"mark":{"type":"rule","color":"#333","strokeWidth":1.2},"encoding":{"x":{"datum":"OPe with MAFLD"},"y":{"datum":14.44},"y2":{"datum":13.6}}},
{"mark":{"type":"text","align":"left","baseline":"alphabetic","fontSize":16,"fontStyle":"italic","color":"#222","dx":-5.6},"encoding":{"x":{"datum":"OPe"},"y":{"datum":15.3},"text":{"value":"P"}}},
{"mark":{"type":"text","align":"left","baseline":"alphabetic","fontSize":16,"color":"#222","dx":7.4},"encoding":{"x":{"datum":"OPe"},"y":{"datum":15.3},"text":{"value":"= 0.0029"}}}
]},
{"width":48.7,"height":1,"data":{"values":[{}]},"mark":{"type":"point","opacity":0},"encoding":{}},
{"width":105.3,"height":256,"data":{"name":"walk"},
"title":{"text":["Six-minute walking distance","(Metres)"],"anchor":"start","frame":"group","dy":37,"dx":-42,"fontSize":16,"fontWeight":"normal","font":"Liberation Serif","color":"#222","lineHeight":20},
"encoding":{"x":{"field":"group","type":"nominal","scale":{"paddingInner":0.433,"paddingOuter":0.206,"align":0.645},"axis":{"title":null,"labelAngle":0,"labelFontSize":15,"labelColor":"#222","labelPadding":7,"labelLineHeight":20,"tickSize":7,"tickColor":"#333","tickWidth":1.5,"domainColor":"#333","domainWidth":1.5,"labelExpr":"datum.value=='OPe'?'OPe':['OPe with','MAFLD']"}},"y":{"type":"quantitative","scale":{"domain":[0,891.5],"nice":false}}},
"layer":[
{"mark":{"type":"rule","color":"#333","strokeWidth":1.5},"encoding":{"x":{"value":0},"y":{"datum":0,"axis":{"title":null,"domain":false,"values":[0,200,400,600],"labelFontSize":15,"labelColor":"#222","labelPadding":4,"tickSize":8,"tickColor":"#333","tickWidth":1.5}},"y2":{"datum":600}}},
{"mark":{"type":"rule","color":"#333","strokeWidth":1.5},"encoding":{"y":{"field":"mean","type":"quantitative"},"y2":{"field":"hi"}}},
{"mark":{"type":"tick","orient":"horizontal","color":"#333","size":19,"thickness":1.5},"encoding":{"y":{"field":"hi","type":"quantitative"}}},
{"mark":{"type":"bar","stroke":"#222","strokeWidth":2},"encoding":{"y":{"field":"mean","type":"quantitative"},"fill":{"field":"group","type":"nominal","scale":{"domain":["OPe","OPe with MAFLD"],"range":["#4a7cc0","#ea560e"]},"legend":null}}},
{"mark":{"type":"rule","color":"#333","strokeWidth":1.2},"encoding":{"x":{"datum":"OPe"},"x2":{"datum":"OPe with MAFLD"},"y":{"datum":660}}},
{"mark":{"type":"rule","color":"#333","strokeWidth":1.2},"encoding":{"x":{"datum":"OPe"},"y":{"datum":660},"y2":{"datum":625}}},
{"mark":{"type":"rule","color":"#333","strokeWidth":1.2},"encoding":{"x":{"datum":"OPe with MAFLD"},"y":{"datum":660},"y2":{"datum":625}}},
{"mark":{"type":"text","align":"left","baseline":"alphabetic","fontSize":16,"fontStyle":"italic","color":"#222","dx":-9},"encoding":{"x":{"datum":"OPe"},"y":{"datum":687},"text":{"value":"P"}}},
{"mark":{"type":"text","align":"left","baseline":"alphabetic","fontSize":16,"color":"#222","dx":4},"encoding":{"x":{"datum":"OPe"},"y":{"datum":687},"text":{"value":"= 0.0120"}}}
]},
{"width":54.7,"height":1,"data":{"values":[{}]},"mark":{"type":"point","opacity":0},"encoding":{}},
{"width":113,"height":256,"data":{"name":"sit"},
"title":{"text":["Five times sit to stand test","(Seconds)"],"anchor":"start","frame":"group","dy":37,"dx":-2,"fontSize":16,"fontWeight":"normal","font":"Liberation Serif","color":"#222","lineHeight":20},
"encoding":{"x":{"field":"group","type":"nominal","scale":{"paddingInner":0.4,"paddingOuter":0.239,"align":0.627},"axis":{"title":null,"labelAngle":0,"labelFontSize":15,"labelColor":"#222","labelPadding":7,"labelLineHeight":20,"tickSize":7,"tickColor":"#333","tickWidth":1.5,"domainColor":"#333","domainWidth":1.5,"labelExpr":"datum.value=='OPe'?'OPe':['OPe with','MAFLD']"}},"y":{"type":"quantitative","scale":{"domain":[0,26.63],"nice":false}}},
"layer":[
{"mark":{"type":"rule","color":"#333","strokeWidth":1.5},"encoding":{"x":{"value":0},"y":{"datum":0,"axis":{"title":null,"domain":false,"values":[0,5,10,15,20],"labelFontSize":15,"labelColor":"#222","labelPadding":4,"tickSize":8,"tickColor":"#333","tickWidth":1.5}},"y2":{"datum":20}}},
{"mark":{"type":"rule","color":"#333","strokeWidth":1.5},"encoding":{"y":{"field":"mean","type":"quantitative"},"y2":{"field":"hi"}}},
{"mark":{"type":"tick","orient":"horizontal","color":"#333","size":19,"thickness":1.5},"encoding":{"y":{"field":"hi","type":"quantitative"}}},
{"mark":{"type":"bar","stroke":"#222","strokeWidth":2},"encoding":{"y":{"field":"mean","type":"quantitative"},"fill":{"field":"group","type":"nominal","scale":{"domain":["OPe","OPe with MAFLD"],"range":["#4a7cc0","#ea560e"]},"legend":null}}},
{"mark":{"type":"rule","color":"#333","strokeWidth":1.2},"encoding":{"x":{"datum":"OPe"},"x2":{"datum":"OPe with MAFLD"},"y":{"datum":15.99}}},
{"mark":{"type":"rule","color":"#333","strokeWidth":1.2},"encoding":{"x":{"datum":"OPe"},"y":{"datum":15.99},"y2":{"datum":15}}},
{"mark":{"type":"rule","color":"#333","strokeWidth":1.2},"encoding":{"x":{"datum":"OPe with MAFLD"},"y":{"datum":15.99},"y2":{"datum":15}}},
{"mark":{"type":"text","align":"left","baseline":"alphabetic","fontSize":16,"fontStyle":"italic","color":"#222","dx":-8.3},"encoding":{"x":{"datum":"OPe"},"y":{"datum":16.6},"text":{"value":"P"}}},
{"mark":{"type":"text","align":"left","baseline":"alphabetic","fontSize":16,"color":"#222","dx":4.7},"encoding":{"x":{"datum":"OPe"},"y":{"datum":16.6},"text":{"value":"= 0.2314"}}}
]},
{"width":51,"height":1,"data":{"values":[{}]},"mark":{"type":"point","opacity":0},"encoding":{}},
{"width":113.3,"height":256,"data":{"name":"grip"},
"title":{"text":"Grip (kg)","anchor":"start","frame":"group","dy":17,"dx":24,"fontSize":16,"fontWeight":"normal","font":"Liberation Serif","color":"#222","lineHeight":20},
"encoding":{"x":{"field":"group","type":"nominal","scale":{"paddingInner":0.39,"paddingOuter":0.227,"align":0.6},"axis":{"title":null,"labelAngle":0,"labelFontSize":15,"labelColor":"#222","labelPadding":7,"labelLineHeight":20,"tickSize":7,"tickColor":"#333","tickWidth":1.5,"domainColor":"#333","domainWidth":1.5,"labelExpr":"datum.value=='OPe'?'OPe':['OPe with','MAFLD']"}},"y":{"type":"quantitative","scale":{"domain":[0,53.6],"nice":false}}},
"layer":[
{"mark":{"type":"rule","color":"#333","strokeWidth":1.5},"encoding":{"x":{"value":0},"y":{"datum":0,"axis":{"title":null,"domain":false,"values":[0,10,20,30,40],"labelFontSize":15,"labelColor":"#222","labelPadding":4,"tickSize":8,"tickColor":"#333","tickWidth":1.5}},"y2":{"datum":40}}},
{"mark":{"type":"rule","color":"#333","strokeWidth":1.5},"encoding":{"y":{"field":"mean","type":"quantitative"},"y2":{"field":"hi"}}},
{"mark":{"type":"tick","orient":"horizontal","color":"#333","size":19,"thickness":1.5},"encoding":{"y":{"field":"hi","type":"quantitative"}}},
{"mark":{"type":"bar","stroke":"#222","strokeWidth":2},"encoding":{"y":{"field":"mean","type":"quantitative"},"fill":{"field":"group","type":"nominal","scale":{"domain":["OPe","OPe with MAFLD"],"range":["#4a7cc0","#ea560e"]},"legend":null}}},
{"mark":{"type":"rule","color":"#333","strokeWidth":1.2},"encoding":{"x":{"datum":"OPe"},"x2":{"datum":"OPe with MAFLD"},"y":{"datum":36.7}}},
{"mark":{"type":"rule","color":"#333","strokeWidth":1.2},"encoding":{"x":{"datum":"OPe"},"y":{"datum":36.7},"y2":{"datum":34.7}}},
{"mark":{"type":"rule","color":"#333","strokeWidth":1.2},"encoding":{"x":{"datum":"OPe with MAFLD"},"y":{"datum":36.7},"y2":{"datum":34.7}}},
{"mark":{"type":"text","align":"left","baseline":"alphabetic","fontSize":16,"fontStyle":"italic","color":"#222","dx":-5.6},"encoding":{"x":{"datum":"OPe"},"y":{"datum":38},"text":{"value":"P"}}},
{"mark":{"type":"text","align":"left","baseline":"alphabetic","fontSize":16,"color":"#222","dx":7.4},"encoding":{"x":{"datum":"OPe"},"y":{"datum":38},"text":{"value":"= 0.1253"}}}
]}
]}
]}
